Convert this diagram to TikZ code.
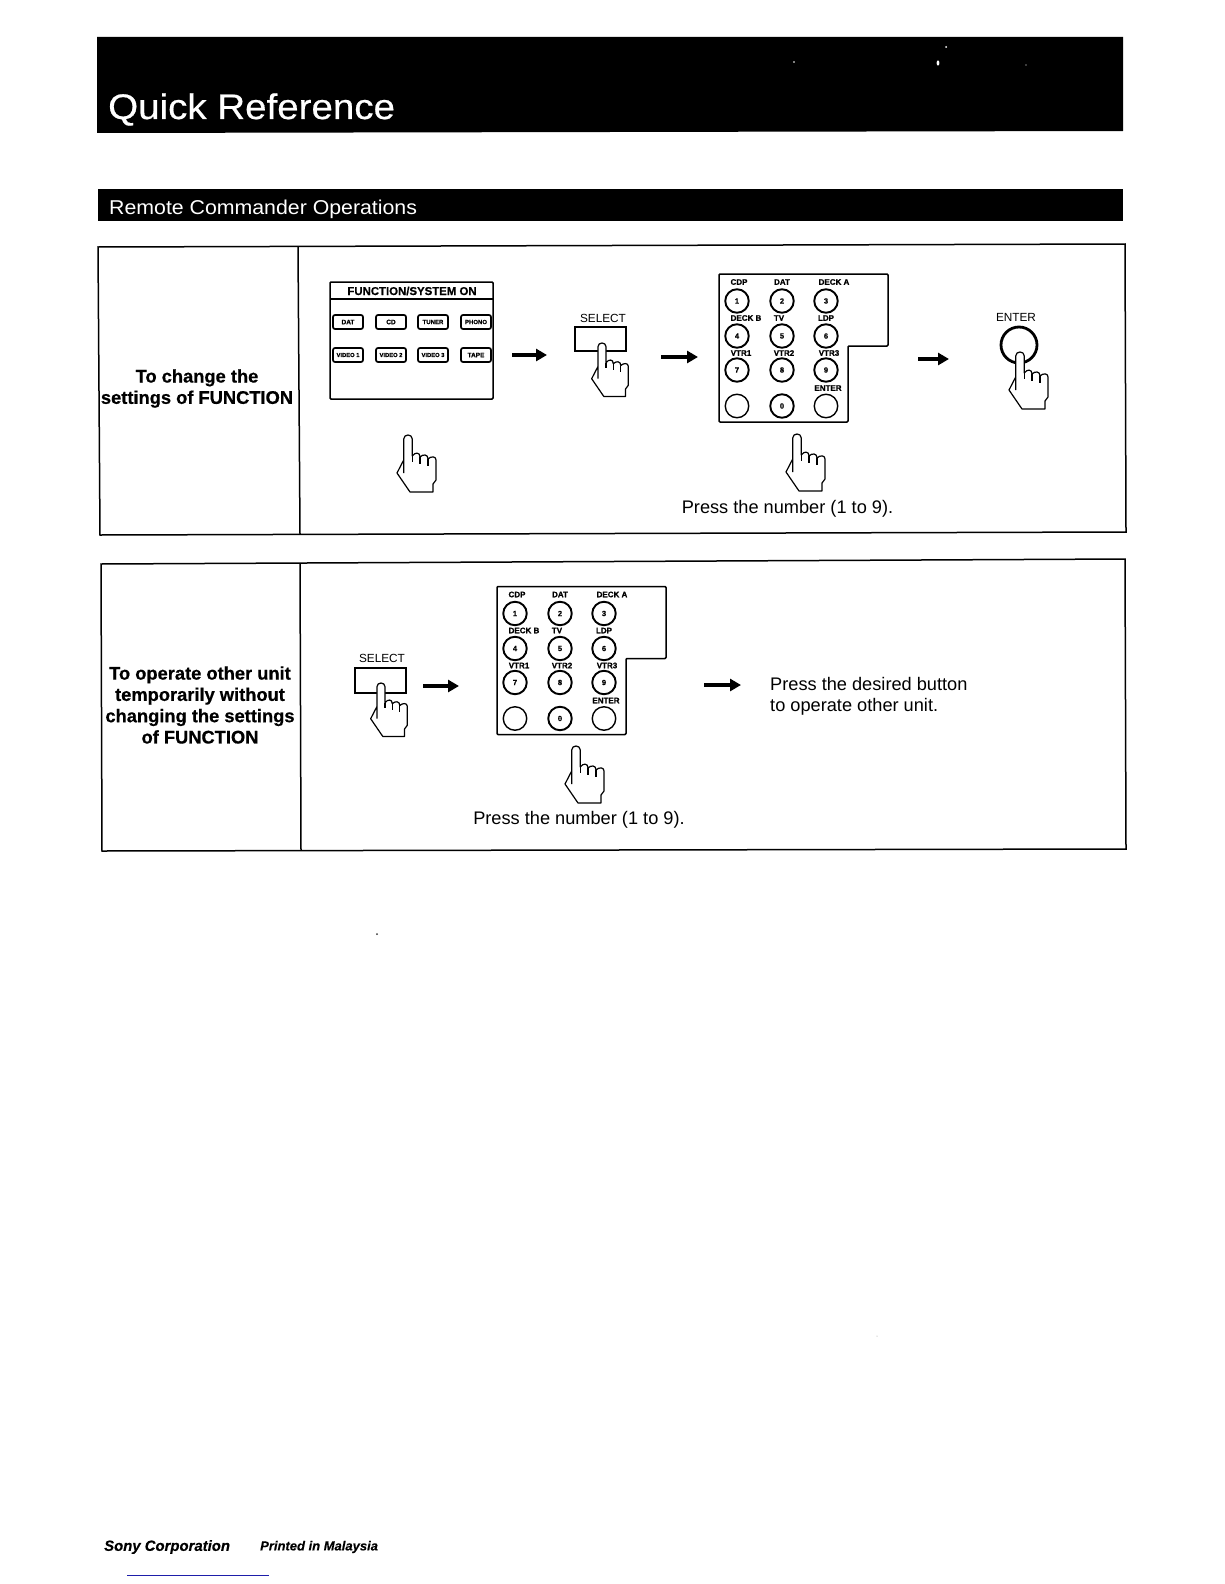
\documentclass[tikz,border=0pt]{standalone}
\usepackage{fontspec}
\setmainfont{Liberation Sans}
\newfontface\heavy{Liberation Sans Bold}[FakeBold=0.6]
\newfontface\heavyit{Liberation Sans Bold Italic}[FakeBold=0.3]
\newfontface\widefont{Liberation Sans}[FakeStretch=1.085,FakeBold=0.5]
\newfontface\widesub{Liberation Sans}[FakeStretch=1.065]
\usetikzlibrary{arrows.meta}
\newcommand{\fs}[1]{\fontsize{#1}{#1}\selectfont}
\tikzset{
  x=1pt,y=-1pt,
  frameline/.style={line width=1.5pt,black},
  flowarrow/.style={line width=3.6pt,black,-{Triangle[length=11pt,width=12pt]}},
  bigbar/.style={fill=black,draw=none},
  keylabel/.style={inner sep=0pt,font=\heavy\fs{8}},
  keynum/.style={inner sep=0pt,font=\heavy\fs{7.5},line width=1.9pt},
  keyround/.style={circle,draw=black,line width=1.4pt,minimum size=23.5pt,inner sep=0pt,fill=white},
  panelbtn/.style={draw=black,line width=1.7pt,rounded corners=2pt,minimum width=30pt,minimum height=14pt,inner sep=0pt,font=\heavy\fs{6.5}},
  rowlabel/.style={inner sep=0pt,align=center,font=\heavy\fs{18.3}},
  plaintext/.style={inner sep=0pt,font=\fs{18.2}},
  smalllabel/.style={inner sep=0pt,font=\fs{11.8}},
  selbox/.style={draw=black,line width=1.8pt,minimum width=51pt,inner sep=0pt},
  handp/.pic={
    \draw[line width=1.2pt,fill=white,line join=round]
      (-4.3,38) -- (-4.3,4) .. controls (-4.3,-1.3) and (4.3,-1.3) .. (4.3,4)
      -- (4.3,21) .. controls (7,17) and (12,17) .. (12,22)
      .. controls (15,19) and (20,19) .. (20,24)
      .. controls (23,21) and (28,21) .. (28,25)
      -- (28,45) -- (25,49) -- (25,57) -- (2,57) -- (-11,38) -- (-4.3,25);
    \draw[line width=1.2pt] (4.3,21) -- (4.3,27) (12,22) -- (12,29) (20,24) -- (20,31);
  },
  keypad/.pic={
    \draw[line width=1.5pt,line join=round,rounded corners=1pt,fill=white]
      (0,0) -- (169,0) -- (169,72) -- (129,72) -- (129,148) -- (0,148) -- cycle;
    \foreach \nm/\px/\py/\tx in {a/18/27/1,b/63/27/2,c/107/27/3,d/18/62/4,e/63/62/5,f/107/62/6,g/18/96/7,h/63/96/8,i/107/96/9,k/63/132/0}{
      \node[keyround,keynum] (-\nm) at (\px,\py) {\tx};
    }
    \node[keyround] (-j) at (18,132) {};
    \node[keyround] (-l) at (107,132) {};
    \foreach \nm/\px/\py/\tx in {A/20/8/CDP,B/63/8/DAT,C/115/8/DECK A,D/27/44/DECK B,E/60/44/TV,F/107/44/LDP,G/22/79/VTR1,H/65/79/VTR2,I/110/79/VTR3,J/109/114/ENTER}{
      \node[keylabel] (-\nm) at (\px,\py) {\tx};
    }
  }
}
\begin{document}
\begin{tikzpicture}
\useasboundingbox (0,0) rectangle (1224,1584);
\fill[white] (0,0) rectangle (1224,1584);

% header bars
\path[bigbar] (97,37) -- (1123,37) -- (1123,131) -- (97,133) -- cycle;
\node[anchor=base west,inner sep=0pt,text=white,font=\widefont\fs{35.5}] (title) at (108,119) {Quick Reference};
\path[bigbar] (98,189) -- (1123,189) -- (1123,221) -- (98,221) -- cycle;
\node[anchor=base west,inner sep=0pt,text=white,font=\widesub\fs{20}] (subtitle) at (109,214) {Remote Commander Operations};
\fill[white] (946,47) circle (1pt) (938,63) ellipse (1.4pt and 2.6pt) (794,62) circle (.8pt) (1026,65) circle (.6pt);

% table frames
\draw[frameline] (98,247) -- (1125,244) -- (1126,532) -- (100,535) -- cycle;
\draw[frameline] (298,247) -- (300,534);
\draw[frameline] (101,564) -- (1125,559) -- (1126,849) -- (102,851) -- cycle;
\draw[frameline] (300,563) -- (301,850);

% row labels
\node[rowlabel] (rowa) at (197,388.5) {To change the\\[3pt]settings of FUNCTION};
\node[rowlabel] (rowb) at (200,705) {To operate other unit\\[3pt]temporarily without\\[3pt]changing the settings\\[3pt]of FUNCTION};

% function panel
\draw[line width=1.5pt,rounded corners=1pt] (330,282) rectangle (493,399);
\draw[line width=1.3pt] (330,299) -- (493,299);
\node[inner sep=0pt,font=\heavy\fs{11.4}] (ftitle) at (412,291) {FUNCTION/SYSTEM ON};
\node[panelbtn] (b1) at (348,322) {DAT};
\node[panelbtn] (b2) at (391,322) {CD};
\node[panelbtn,font=\heavy\fs{6}] (b3) at (433,322) {TUNER};
\node[panelbtn,font=\heavy\fs{6}] (b4) at (476,322) {PHONO};
\node[panelbtn,font=\heavy\fs{5.8}] (b5) at (348,355) {VIDEO 1};
\node[panelbtn,font=\heavy\fs{5.8}] (b6) at (391,355) {VIDEO 2};
\node[panelbtn,font=\heavy\fs{5.8}] (b7) at (433,355) {VIDEO 3};
\node[panelbtn] (b8) at (476,355) {TAPE};
\pic at (408,435) {handp};

% first row flow
\coordinate (a1s) at (512,355); \coordinate (a1e) at (547,355);
\draw[flowarrow] (a1s) -- (a1e);
\node[smalllabel] (sel1) at (603,318) {SELECT};
\node[selbox,minimum height=24pt] (selbox1) at (600.5,339) {};
\pic[scale=.94] at (602,343) {handp};
\coordinate (a2s) at (661,357); \coordinate (a2e) at (698,357);
\draw[flowarrow] (a2s) -- (a2e);
\pic (pad1) at (719,274) {keypad};
\pic at (797,434) {handp};
\node[plaintext] (press1) at (787.5,509) {Press the number (1 to 9).};
\coordinate (a3s) at (918,359); \coordinate (a3e) at (949,359);
\draw[flowarrow] (a3s) -- (a3e);
\node[smalllabel] (ent) at (1016,317) {ENTER};
\node[circle,draw=black,line width=2.8pt,minimum size=36pt,inner sep=0pt] (entbtn) at (1019,345) {};
\pic at (1020,352) {handp};

% second row flow
\node[smalllabel] (sel2) at (382,658) {SELECT};
\node[selbox,minimum height=25pt] (selbox2) at (380.5,680.5) {};
\pic[scale=.94] at (381,683) {handp};
\coordinate (a4s) at (423,686); \coordinate (a4e) at (459,686);
\draw[flowarrow] (a4s) -- (a4e);
\pic (pad2) at (497,586.5) {keypad};
\pic at (576,746) {handp};
\node[plaintext] (press2) at (579,820) {Press the number (1 to 9).};
\coordinate (a5s) at (704,685); \coordinate (a5e) at (741,685);
\draw[flowarrow] (a5s) -- (a5e);
\node[plaintext,align=left,anchor=west] (desired) at (770,696.5) {Press the desired button\\[2.8pt]to operate other unit.};

% footer
\node[anchor=west,inner sep=0pt,font=\heavyit\fs{14.9}] (foot1) at (104,1547) {Sony Corporation};
\node[anchor=west,inner sep=0pt,font=\heavyit\fs{13}] (foot2) at (260,1547) {Printed in Malaysia};
\draw[line width=1pt,color={rgb,255:red,30;green,30;blue,170}] (127,1575) -- (269,1575);

% specks
\fill[black!80] (377,934) circle (1pt);
\fill[black!40] (877,1336) circle (.5pt);
\end{tikzpicture}
\end{document}
